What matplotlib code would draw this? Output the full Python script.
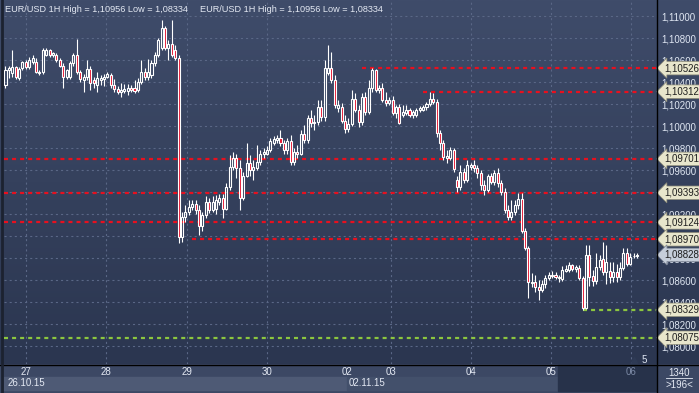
import numpy as np
import matplotlib.pyplot as plt
from matplotlib.colors import LinearSegmentedColormap
from matplotlib.transforms import blended_transform_factory

plt.rcParams['font.family'] = ['Liberation Sans', 'DejaVu Sans']
plt.rcParams['lines.scale_dashes'] = False

# EUR/USD 1H bars, 26.10.15 evening .. 06.11.15 morning
opens = [1.1037, 1.1051, 1.1048, 1.1054, 1.1044, 1.1053, 1.1058, 1.1054, 1.1058, 1.1058,
         1.1048, 1.1049, 1.1065, 1.1069, 1.1065, 1.1065, 1.1060, 1.1055, 1.1045, 1.1045,
         1.1057, 1.1065, 1.1049, 1.1042, 1.1045, 1.1052, 1.1042, 1.1037, 1.1042, 1.1043,
         1.1045, 1.1046, 1.1037, 1.1034, 1.1031, 1.1032, 1.1032, 1.1035, 1.1035, 1.1033,
         1.1040, 1.1049, 1.1045, 1.1046, 1.1057, 1.1065, 1.1071, 1.1089, 1.1071, 1.1075,
         1.1069, 1.1062, 1.0899, 1.0917, 1.0922, 1.0926, 1.0929, 1.0924, 1.0909, 1.0919,
         1.0931, 1.0924, 1.0925, 1.0931, 1.0935, 1.0925, 1.0945, 1.0963, 1.0971, 1.0962,
         1.0935, 1.0955, 1.0966, 1.0960, 1.0962, 1.0967, 1.0975, 1.0975, 1.0978, 1.0985,
         1.0987, 1.0989, 1.0985, 1.0978, 1.0986, 1.0967, 1.0976, 1.0975, 1.0993, 1.0987,
         1.1007, 1.1003, 1.1004, 1.1017, 1.1008, 1.1048, 1.1053, 1.1042, 1.1016, 1.1017,
         1.1005, 1.0997, 1.1002, 1.1025, 1.1015, 1.1004, 1.1026, 1.1013, 1.1035, 1.1051,
         1.1033, 1.1035, 1.1024, 1.1021, 1.1024, 1.1012, 1.1017, 1.1010, 1.1012, 1.1015,
         1.1010, 1.1010, 1.1015, 1.1015, 1.1017, 1.1020, 1.1025, 1.1022, 1.0994, 1.0985,
         1.0971, 1.0971, 1.0978, 1.0951, 1.0945, 1.0958, 1.0951, 1.0963, 1.0965, 1.0962,
         1.0957, 1.0946, 1.0942, 1.0955, 1.0949, 1.0957, 1.0948, 1.0940, 1.0924, 1.0917,
         1.0922, 1.0928, 1.0934, 1.0905, 1.0889, 1.0857, 1.0858, 1.0854, 1.0851, 1.0856,
         1.0862, 1.0864, 1.0865, 1.0863, 1.0861, 1.0868, 1.0869, 1.0874, 1.0870, 1.0871,
         1.0862, 1.0835, 1.0883, 1.0864, 1.0859, 1.0872, 1.0879, 1.0867, 1.0868, 1.0863,
         1.0867, 1.0863, 1.0871, 1.0885, 1.0875, 1.0882, 1.0882]
highs = [1.1055, 1.1055, 1.1069, 1.1055, 1.1054, 1.1059, 1.1060, 1.1063, 1.1065, 1.1062,
         1.1051, 1.1071, 1.1071, 1.1070, 1.1067, 1.1066, 1.1062, 1.1057, 1.1052, 1.1059,
         1.1066, 1.1079, 1.1051, 1.1047, 1.1060, 1.1055, 1.1045, 1.1049, 1.1046, 1.1047,
         1.1049, 1.1048, 1.1043, 1.1036, 1.1039, 1.1038, 1.1038, 1.1037, 1.1042, 1.1044,
         1.1060, 1.1053, 1.1061, 1.1060, 1.1067, 1.1080, 1.1096, 1.1091, 1.1078, 1.1096,
         1.1074, 1.1065, 1.0922, 1.0928, 1.0933, 1.0933, 1.0933, 1.0928, 1.0922, 1.0936,
         1.0935, 1.0936, 1.0937, 1.0938, 1.0938, 1.0948, 1.0974, 1.0976, 1.0975, 1.0969,
         1.0958, 1.0985, 1.0974, 1.0969, 1.0983, 1.0978, 1.0980, 1.0982, 1.0989, 1.0991,
         1.0992, 1.0996, 1.0987, 1.0989, 1.0992, 1.0980, 1.0983, 1.0996, 1.1001, 1.1010,
         1.1015, 1.1010, 1.1024, 1.1024, 1.1060, 1.1074, 1.1067, 1.1046, 1.1024, 1.1021,
         1.1010, 1.1007, 1.1033, 1.1030, 1.1019, 1.1030, 1.1031, 1.1042, 1.1053, 1.1052,
         1.1037, 1.1039, 1.1031, 1.1026, 1.1027, 1.1019, 1.1020, 1.1019, 1.1019, 1.1016,
         1.1015, 1.1016, 1.1018, 1.1019, 1.1022, 1.1031, 1.1030, 1.1025, 1.0996, 1.0987,
         1.0978, 1.0981, 1.0980, 1.0955, 1.0965, 1.0962, 1.0969, 1.0966, 1.0969, 1.0965,
         1.0960, 1.0951, 1.0956, 1.0957, 1.0960, 1.0962, 1.0951, 1.0944, 1.0928, 1.0933,
         1.0933, 1.0939, 1.0939, 1.0907, 1.0891, 1.0866, 1.0865, 1.0860, 1.0860, 1.0865,
         1.0867, 1.0868, 1.0867, 1.0865, 1.0873, 1.0874, 1.0876, 1.0875, 1.0874, 1.0874,
         1.0864, 1.0892, 1.0892, 1.0869, 1.0885, 1.0883, 1.0895, 1.0892, 1.0876, 1.0876,
         1.0875, 1.0876, 1.0889, 1.0889, 1.0885, 1.0885, 1.0885]
lows = [1.1035, 1.1044, 1.1045, 1.1043, 1.1042, 1.1051, 1.1052, 1.1052, 1.1056, 1.1048,
        1.1046, 1.1047, 1.1064, 1.1063, 1.1063, 1.1058, 1.1054, 1.1035, 1.1043, 1.1043,
        1.1055, 1.1047, 1.1040, 1.1031, 1.1042, 1.1033, 1.1035, 1.1031, 1.1037, 1.1036,
        1.1044, 1.1035, 1.1031, 1.1029, 1.1026, 1.1030, 1.1028, 1.1031, 1.1030, 1.1031,
        1.1038, 1.1042, 1.1042, 1.1044, 1.1055, 1.1063, 1.1069, 1.1069, 1.1060, 1.1063,
        1.1060, 1.0894, 1.0895, 1.0913, 1.0919, 1.0924, 1.0920, 1.0901, 1.0905, 1.0916,
        1.0921, 1.0922, 1.0920, 1.0928, 1.0916, 1.0924, 1.0942, 1.0960, 1.0953, 1.0924,
        1.0933, 1.0954, 1.0955, 1.0951, 1.0960, 1.0965, 1.0971, 1.0974, 1.0976, 1.0983,
        1.0985, 1.0982, 1.0975, 1.0975, 1.0965, 1.0965, 1.0971, 1.0974, 1.0985, 1.0985,
        1.0999, 1.0996, 1.1001, 1.1005, 1.1005, 1.1046, 1.1039, 1.1016, 1.1013, 1.1003,
        1.0994, 1.0995, 1.1000, 1.1013, 1.0999, 1.1001, 1.1010, 1.1011, 1.1031, 1.1031,
        1.1030, 1.1022, 1.1018, 1.1019, 1.1010, 1.1007, 1.1002, 1.1008, 1.1010, 1.1008,
        1.1007, 1.1008, 1.1013, 1.1014, 1.1015, 1.1018, 1.1020, 1.0990, 1.0978, 1.0969,
        1.0966, 1.0969, 1.0958, 1.0940, 1.0942, 1.0948, 1.0949, 1.0960, 1.0958, 1.0953,
        1.0942, 1.0937, 1.0940, 1.0947, 1.0946, 1.0945, 1.0937, 1.0921, 1.0915, 1.0915,
        1.0919, 1.0925, 1.0903, 1.0887, 1.0844, 1.0854, 1.0849, 1.0842, 1.0849, 1.0853,
        1.0860, 1.0862, 1.0861, 1.0858, 1.0859, 1.0867, 1.0867, 1.0868, 1.0867, 1.0860,
        1.0833, 1.0834, 1.0855, 1.0855, 1.0856, 1.0869, 1.0865, 1.0856, 1.0857, 1.0858,
        1.0858, 1.0860, 1.0869, 1.0873, 1.0874, 1.0880, 1.0880]
closes = [1.1051, 1.1053, 1.1054, 1.1045, 1.1052, 1.1058, 1.1054, 1.1060, 1.1062, 1.1049,
          1.1049, 1.1069, 1.1069, 1.1065, 1.1066, 1.1060, 1.1055, 1.1045, 1.1051, 1.1057,
          1.1065, 1.1049, 1.1043, 1.1045, 1.1052, 1.1039, 1.1039, 1.1044, 1.1044, 1.1045,
          1.1047, 1.1037, 1.1034, 1.1031, 1.1033, 1.1034, 1.1035, 1.1033, 1.1032, 1.1040,
          1.1049, 1.1045, 1.1049, 1.1057, 1.1065, 1.1078, 1.1089, 1.1071, 1.1075, 1.1065,
          1.1062, 1.0899, 1.0917, 1.0922, 1.0926, 1.0929, 1.0924, 1.0909, 1.0919, 1.0931,
          1.0924, 1.0931, 1.0933, 1.0935, 1.0925, 1.0945, 1.0963, 1.0971, 1.0962, 1.0935,
          1.0955, 1.0966, 1.0960, 1.0963, 1.0967, 1.0975, 1.0976, 1.0978, 1.0986, 1.0988,
          1.0989, 1.0985, 1.0978, 1.0986, 1.0967, 1.0976, 1.0975, 1.0993, 1.0987, 1.1007,
          1.1003, 1.1004, 1.1017, 1.1008, 1.1053, 1.1053, 1.1042, 1.1019, 1.1019, 1.1005,
          1.0997, 1.1002, 1.1025, 1.1015, 1.1004, 1.1026, 1.1013, 1.1035, 1.1051, 1.1033,
          1.1035, 1.1024, 1.1021, 1.1024, 1.1012, 1.1017, 1.1003, 1.1013, 1.1015, 1.1010,
          1.1013, 1.1015, 1.1016, 1.1017, 1.1020, 1.1025, 1.1022, 1.0994, 1.0985, 1.0972,
          1.0973, 1.0978, 1.0961, 1.0945, 1.0958, 1.0951, 1.0965, 1.0965, 1.0962, 1.0957,
          1.0946, 1.0942, 1.0955, 1.0949, 1.0957, 1.0948, 1.0940, 1.0924, 1.0917, 1.0922,
          1.0928, 1.0934, 1.0905, 1.0889, 1.0858, 1.0858, 1.0854, 1.0851, 1.0856, 1.0862,
          1.0865, 1.0865, 1.0863, 1.0862, 1.0869, 1.0870, 1.0874, 1.0870, 1.0872, 1.0862,
          1.0835, 1.0883, 1.0863, 1.0859, 1.0872, 1.0878, 1.0867, 1.0876, 1.0863, 1.0867,
          1.0863, 1.0871, 1.0885, 1.0875, 1.0881, 1.0882, 1.0883]

day_labels = ['27', '28', '29', '30', '02', '03', '04', '05', '06']
day_start_bar = [6, 29.6, 53.5, 77, 100.6, 113.5, 137.1, 160.7, 184.2]
week_labels = ['26.10.15', '02.11.15']

red_levels = [1.10526, 1.10312, 1.09701, 1.09393, 1.09124, 1.08970]
red_level_from = [105, 123, -1, -1, -1, 55]
green_levels = [1.08329, 1.08075]
green_level_from = [170, -1]
last_price = 1.08828

price_ticks = [1.080, 1.082, 1.084, 1.086, 1.088, 1.090, 1.092, 1.094,
               1.096, 1.098, 1.100, 1.102, 1.104, 1.106, 1.108, 1.110]

W, H = 699, 393
fig = plt.figure(figsize=(W / 100, H / 100), dpi=100)
fig.patch.set_facecolor('#3c4864')

# gradient backdrop behind chart + price scale
bg = fig.add_axes([0, 29 / H, 1, 364 / H])
bg.imshow(np.linspace(0, 1, 256).reshape(-1, 1), aspect='auto',
          cmap=LinearSegmentedColormap.from_list('bg', ['#3f4c6a', '#2b3650']),
          extent=[0, 1, 0, 1])
bg.set_axis_off()

ax = fig.add_axes([4 / W, 29 / H, 652 / W, 363 / H])
ax.set_facecolor('none')
x = np.arange(len(closes))
xmin, xmax = -0.44, 191.6
ymin, ymax = 1.078364, 1.111364
ax.set_xlim(xmin, xmax)
ax.set_ylim(ymin, ymax)

# grid
grid_kw = dict(color='#5a6786', lw=0.8, ls=(0, (1.5, 2.2)), zorder=1)
for p in price_ticks:
    ax.axhline(p, **grid_kw)
for lab, b in zip(day_labels, day_start_bar):
    if lab != '02':  # week start has no grid line
        ax.axvline(b, **grid_kw)

# level lines
for lv, f in zip(red_levels, red_level_from):
    ax.hlines(lv, max(f, xmin), xmax, color='#e8101e', lw=1.6,
              ls=(0, (2.9, 2.9)), zorder=2)
for lv, f in zip(green_levels, green_level_from):
    ax.hlines(lv, max(f, xmin), xmax, color='#8cc63f', lw=1.6,
              ls=(0, (2.9, 2.9)), zorder=2)

# candles
o = np.array(opens); c = np.array(closes)
h = np.array(highs); l = np.array(lows)
top = np.maximum(o, c); bot = np.minimum(o, c)
ax.vlines(x, top, h, color='white', lw=0.8, zorder=3)
ax.vlines(x, l, bot, color='white', lw=0.8, zorder=3)
bear = c < o
ax.bar(x[bear], (o - c)[bear], bottom=c[bear], width=0.6,
       color='#e4102c', edgecolor='white', lw=0.8, zorder=4)
ax.bar(x[~bear], np.maximum((c - o)[~bear], 0.000002), bottom=o[~bear], width=0.6,
       color='none', edgecolor='white', lw=0.8, zorder=4)

# price scale on the right
ax.yaxis.tick_right()
ax.set_yticks(price_ticks)
ax.set_yticklabels([f"{p:.5f}".replace('.', ',') for p in price_ticks])
ax.tick_params(axis='y', length=0, pad=4, labelsize=7, labelcolor='#dfe6f2')
ax.set_xticks([])
for s in ax.spines.values():
    s.set_visible(False)

tr = blended_transform_factory(ax.transAxes, ax.transData)
for lv in red_levels + green_levels:
    ax.text(1 + 8 / 652, lv, f"{lv:.5f}".replace('.', ','), transform=tr,
            fontsize=7, color='#1e1e1e', va='center', ha='left', clip_on=False,
            zorder=6, bbox=dict(boxstyle='larrow,pad=0.18', fc='#e8e6cc',
                                ec='#8e8c78', lw=0.5))
ax.text(1 + 8 / 652, last_price, f"{last_price:.5f}".replace('.', ','), transform=tr,
        fontsize=7, color='#1e1e1e', va='center', ha='left', clip_on=False,
        zorder=6, bbox=dict(boxstyle='larrow,pad=0.18', fc='#c6ceda',
                            ec='#7c8494', lw=0.5))

# header
head = "EUR/USD 1H High = 1,10956 Low = 1,08334"
fig.text(5 / W, 1 - 9 / H, head, fontsize=6.6, color='#e4e9f3', va='center')
fig.text(200 / W, 1 - 9 / H, head, fontsize=6.6, color='#e4e9f3', va='center')
ax.text(xmax - 3.5, ymin + 0.0004, '5', fontsize=7, color='#dfe6f2', ha='center', va='center')
ax.plot([xmax - 6.5], [ymin + 0.00035], marker='^', ms=4, color='#2e3a55', zorder=5)

# time axis panel
axb = fig.add_axes([4 / W, 0, 652 / W, 29 / H], sharex=ax)
axb.set_facecolor('#3c4864')
axb.set_ylim(29, 0)
axb.axis('off')
axb.fill_between([xmin, day_start_bar[4]], 13, 26, color='#4e5a75', zorder=1)
axb.fill_between([day_start_bar[4], 162.6], 13, 26, color='#43506b', zorder=1)
axb.fill_between([162.6, xmax], 1, 27, color='#27324a', zorder=1)
for lab, b in zip(day_labels, day_start_bar):
    axb.text(b, 8, lab, fontsize=7, ha='center', va='center', zorder=3,
             color='#7c8aa6' if b > 162.6 else '#e4e9f3')
axb.text(xmin + 1, 19.5, week_labels[0], fontsize=7, color='#e4e9f3', va='center', zorder=3)
axb.text(day_start_bar[4] + 0.6, 19.5, week_labels[1], fontsize=7, color='#e4e9f3',
         va='center', zorder=3)

fig.text(679 / W, 1 - 373 / H, '1340', fontsize=7, color='#e4e9f3', ha='center', va='center')
fig.text(679 / W, 1 - 385 / H, '>196<', fontsize=7, color='#e4e9f3', ha='center', va='center')
fig.add_artist(plt.Line2D([666 / W, 692 / W], [1 - 378 / H] * 2, color='#e4e9f3', lw=0.6))

# panel separators
fig.add_artist(plt.Line2D([656.5 / W] * 2, [0, 1], color='black', lw=1))
fig.add_artist(plt.Line2D([0, 1], [1 - 364.5 / H] * 2, color='black', lw=1))
fig.add_artist(plt.Line2D([1.5 / W] * 2, [0, 1], color='#1c2230', lw=2))

fig.savefig('out.png', dpi=100, facecolor=fig.get_facecolor())
